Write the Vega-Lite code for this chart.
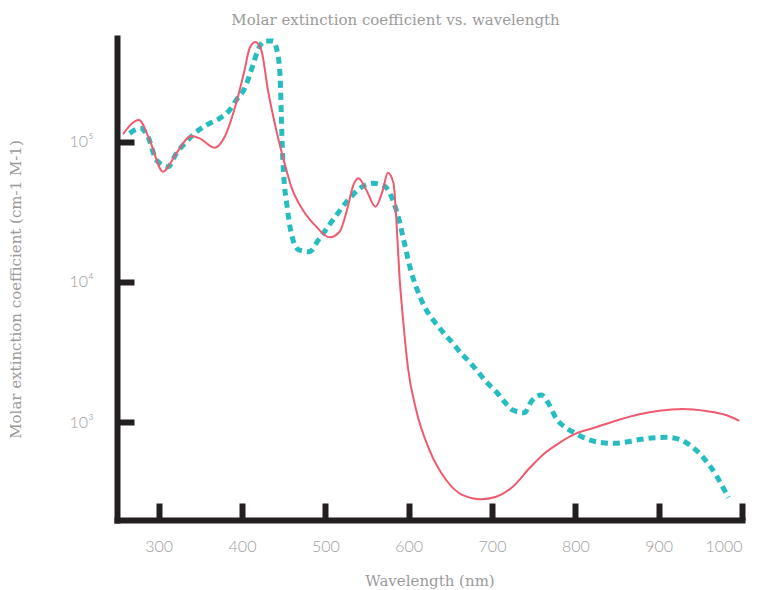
{
  "$schema": "https://vega.github.io/schema/vega-lite/v6.json",
  "width": 625,
  "height": 482,
  "autosize": "none",
  "padding": {"left": 117, "top": 38, "right": 15, "bottom": 70},
  "background": "white",
  "title": {
    "text": "Molar extinction coefficient vs. wavelength",
    "font": "DejaVu Serif",
    "fontSize": 15,
    "fontWeight": "normal",
    "color": "#9b9b9b",
    "frame": "group",
    "anchor": "middle",
    "baseline": "alphabetic",
    "offset": 13,
    "dx": -34,
    "dy": 22
  },
  "config": {
    "view": {"stroke": null},
    "axis": {
      "grid": false,
      "domainColor": "#231f20",
      "domainWidth": 6,
      "domainCap": "square",
      "tickColor": "#231f20",
      "tickWidth": 6,
      "tickSize": -17,
      "labelColor": "#9e9e9e",
      "labelFont": "Lato",
      "labelFontWeight": 300,
      "titleColor": "#9b9b9b",
      "titleFont": "DejaVu Serif",
      "titleFontWeight": "normal",
      "titleFontSize": 15
    }
  },
  "datasets": {
    "oxy": [
      {"nm": 257.2, "v": 113500}, {"nm": 276.4, "v": 142900}, {"nm": 289.2, "v": 102800},
      {"nm": 305.2, "v": 61100}, {"nm": 321.2, "v": 82600}, {"nm": 339.2, "v": 109900},
      {"nm": 349.2, "v": 105700}, {"nm": 367.2, "v": 90600}, {"nm": 379.2, "v": 108600},
      {"nm": 395.1, "v": 209500}, {"nm": 403.1, "v": 325000}, {"nm": 409.1, "v": 464500},
      {"nm": 416.0, "v": 515000}, {"nm": 423.2, "v": 451000}, {"nm": 431.1, "v": 233900},
      {"nm": 441.1, "v": 121300}, {"nm": 451.1, "v": 70100}, {"nm": 459.1, "v": 47800},
      {"nm": 473.0, "v": 32600}, {"nm": 489.1, "v": 24800}, {"nm": 505.1, "v": 20800},
      {"nm": 517.1, "v": 22800}, {"nm": 527.0, "v": 34400}, {"nm": 533.0, "v": 47800},
      {"nm": 539.8, "v": 54800}, {"nm": 549.1, "v": 45200}, {"nm": 560.2, "v": 34400},
      {"nm": 569.0, "v": 45200}, {"nm": 575.0, "v": 60100}, {"nm": 581.8, "v": 50500},
      {"nm": 585.0, "v": 29200}, {"nm": 589.0, "v": 10900}, {"nm": 593.0, "v": 5640},
      {"nm": 599.0, "v": 2480}, {"nm": 609.0, "v": 1218}, {"nm": 625.0, "v": 631},
      {"nm": 645.0, "v": 386}, {"nm": 664.9, "v": 301}, {"nm": 687.0, "v": 281},
      {"nm": 705.0, "v": 293}, {"nm": 724.9, "v": 345}, {"nm": 744.9, "v": 468},
      {"nm": 760.8, "v": 583}, {"nm": 776.9, "v": 685}, {"nm": 800.9, "v": 830},
      {"nm": 820.8, "v": 902}, {"nm": 844.8, "v": 1005}, {"nm": 876.8, "v": 1135},
      {"nm": 900.8, "v": 1204}, {"nm": 928.7, "v": 1238}, {"nm": 956.8, "v": 1198},
      {"nm": 980.8, "v": 1122}, {"nm": 996.7, "v": 1021}
    ],
    "deoxy": [
      {"nm": 265.2, "v": 114800}, {"nm": 278.1, "v": 124800}, {"nm": 287.2, "v": 108600},
      {"nm": 297.2, "v": 74100}, {"nm": 311.2, "v": 66400}, {"nm": 321.2, "v": 82600},
      {"nm": 335.1, "v": 102800}, {"nm": 343.2, "v": 114800}, {"nm": 357.2, "v": 131500},
      {"nm": 373.2, "v": 146800}, {"nm": 385.1, "v": 168200}, {"nm": 393.2, "v": 198700},
      {"nm": 403.1, "v": 240500}, {"nm": 413.1, "v": 352400}, {"nm": 419.1, "v": 451000},
      {"nm": 427.1, "v": 523600}, {"nm": 437.1, "v": 523600}, {"nm": 443.1, "v": 415900},
      {"nm": 445.9, "v": 275400}, {"nm": 447.1, "v": 159600}, {"nm": 448.3, "v": 92000},
      {"nm": 449.9, "v": 59600}, {"nm": 451.1, "v": 47800}, {"nm": 453.1, "v": 38400},
      {"nm": 459.1, "v": 22200}, {"nm": 468.2, "v": 16900}, {"nm": 480.2, "v": 16400},
      {"nm": 493.1, "v": 20500}, {"nm": 509.0, "v": 27600}, {"nm": 529.0, "v": 39400},
      {"nm": 543.1, "v": 47300}, {"nm": 557.0, "v": 50500}, {"nm": 571.0, "v": 48300},
      {"nm": 581.0, "v": 38400}, {"nm": 589.0, "v": 26900}, {"nm": 595.0, "v": 18800},
      {"nm": 603.0, "v": 11800}, {"nm": 609.0, "v": 9230}, {"nm": 619.0, "v": 6650},
      {"nm": 631.0, "v": 5200}, {"nm": 640.9, "v": 4400}, {"nm": 652.9, "v": 3650},
      {"nm": 663.0, "v": 3090}, {"nm": 672.9, "v": 2690}, {"nm": 682.9, "v": 2290},
      {"nm": 692.9, "v": 1940}, {"nm": 705.0, "v": 1645}, {"nm": 714.9, "v": 1396},
      {"nm": 724.9, "v": 1218}, {"nm": 738.9, "v": 1165}, {"nm": 746.9, "v": 1396},
      {"nm": 758.9, "v": 1559}, {"nm": 768.9, "v": 1322}, {"nm": 776.9, "v": 1063},
      {"nm": 786.9, "v": 926}, {"nm": 798.8, "v": 839}, {"nm": 816.8, "v": 745},
      {"nm": 832.8, "v": 712}, {"nm": 846.8, "v": 705}, {"nm": 862.7, "v": 723},
      {"nm": 878.8, "v": 753}, {"nm": 894.8, "v": 773}, {"nm": 908.8, "v": 778},
      {"nm": 924.8, "v": 753}, {"nm": 938.8, "v": 674}, {"nm": 950.8, "v": 582},
      {"nm": 960.7, "v": 493}, {"nm": 968.8, "v": 419}, {"nm": 976.7, "v": 345},
      {"nm": 983.9, "v": 290}
    ]
  },
  "encoding": {
    "x": {
      "field": "nm",
      "type": "quantitative",
      "scale": {"domain": [250, 1000], "nice": false, "zero": false},
      "axis": {
        "title": "Wavelength (nm)",
        "values": [300, 400, 500, 600, 700, 800, 900, 1000],
        "format": "d",
        "labelFontSize": 16,
        "labelPadding": 35,
        "titlePadding": 19
      }
    },
    "y": {
      "field": "v",
      "type": "quantitative",
      "scale": {"type": "log", "domain": [200, 550000], "nice": false},
      "axis": {
        "title": "Molar extinction coefficient (cm-1 M-1)",
        "values": [1000, 10000, 100000],
        "labelExpr": "datum.value == 1000 ? '10³' : datum.value == 10000 ? '10⁴' : '10⁵'",
        "labelFontSize": 16,
        "labelPadding": 41,
        "titlePadding": 46,
        "titleFontSize": 15,
        "titleY": 251
      }
    }
  },
  "layer": [
    {
      "data": {"name": "deoxy"},
      "mark": {"type": "line", "interpolate": "monotone", "color": "#27bdbf", "strokeWidth": 5, "strokeDash": [7, 5]}
    },
    {
      "data": {"name": "oxy"},
      "mark": {"type": "line", "interpolate": "monotone", "color": "#ef5a6e", "strokeWidth": 2}
    }
  ]
}
